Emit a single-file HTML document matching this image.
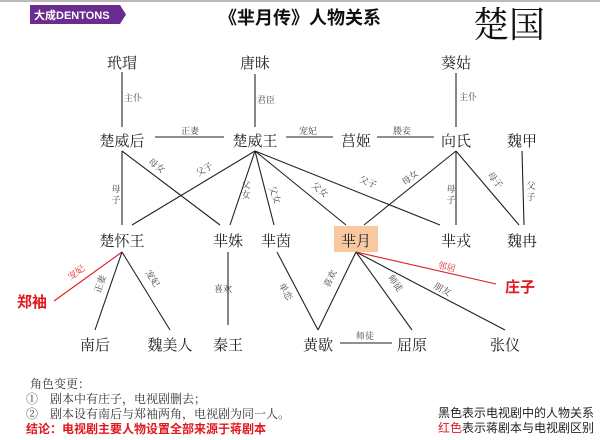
<!DOCTYPE html>
<html><head><meta charset="utf-8"><style>
html,body{margin:0;padding:0;background:#fff;width:600px;height:440px;overflow:hidden}
svg{display:block}
.n{font-family:"Liberation Serif","Noto Serif CJK SC",serif;font-size:15px;fill:#222;text-anchor:middle}
.l{font-family:"Liberation Serif","Noto Serif CJK SC",serif;font-size:9px;fill:#444;text-anchor:middle}
.f{font-family:"Liberation Serif","Noto Serif CJK SC",serif;font-size:12px;fill:#333}
line{stroke:#222;stroke-width:1.1}
.r{stroke:#e0191f}
</style></head><body>
<svg width="600" height="440" viewBox="0 0 600 440" xmlns="http://www.w3.org/2000/svg">
<rect x="0" y="0" width="600" height="2" fill="#bbb"/>
<polygon points="30,5 120,5 126,14.5 120,24 30,24" fill="#6b2c91"/>
<text x="34" y="19" font-family="Liberation Sans,Noto Sans CJK SC,sans-serif" font-size="11" font-weight="bold" fill="#fff">大成DENTONS</text>
<text x="300" y="24" text-anchor="middle" font-family="Liberation Sans,Noto Sans CJK SC,sans-serif" font-size="18" font-weight="bold" fill="#111">《芈月传》人物关系</text>
<text x="509" y="37" text-anchor="middle" font-family="Liberation Serif,Noto Serif CJK SC,serif" font-size="36" fill="#111">楚国</text>

<rect x="334" y="226" width="44" height="26" fill="#f8c9a0"/>

<!-- top verticals -->
<line x1="122" y1="72" x2="122" y2="127"/><text class="l" x="133" y="101">主仆</text>
<line x1="255" y1="74" x2="255" y2="127"/><text class="l" x="266" y="103">君臣</text>
<line x1="456" y1="73" x2="456" y2="127"/><text class="l" x="468" y="100">主仆</text>
<!-- horizontals -->
<line x1="155" y1="137" x2="224" y2="137"/><text class="l" x="190" y="134">正妻</text>
<line x1="286" y1="137" x2="333" y2="137"/><text class="l" x="308" y="134">宠妃</text>
<line x1="377" y1="137" x2="434" y2="137"/><text class="l" x="402" y="134">媵妾</text>

<!-- row2 to row3 -->
<line x1="122" y1="151" x2="122" y2="225"/><text class="l" x="116" y="192">母</text><text class="l" x="116" y="203">子</text>
<line x1="122" y1="151" x2="220" y2="225"/><text class="l" x="155" y="168" transform="rotate(37 155 168)">母女</text>
<line x1="255" y1="151" x2="132" y2="225"/><text class="l" x="206" y="172" transform="rotate(-31 206 172)">父子</text>
<line x1="255" y1="151" x2="230" y2="225"/><text class="l" x="246" y="188">父</text><text class="l" x="246" y="198">女</text>
<line x1="255" y1="151" x2="274" y2="225"/><text class="l" x="272" y="196" transform="rotate(70 272 196)">父女</text>
<line x1="255" y1="151" x2="346" y2="225"/><text class="l" x="318" y="192" transform="rotate(39 318 192)">父女</text>
<line x1="255" y1="151" x2="440" y2="225"/><text class="l" x="367" y="185" transform="rotate(22 367 185)">父子</text>
<line x1="456" y1="151" x2="364" y2="225"/><text class="l" x="412" y="180" transform="rotate(-39 412 180)">母女</text>
<line x1="456" y1="151" x2="456" y2="225"/><text class="l" x="451" y="192">母</text><text class="l" x="451" y="203">子</text>
<line x1="456" y1="151" x2="519" y2="225"/><text class="l" x="493" y="182" transform="rotate(50 493 182)">母子</text>
<line x1="522" y1="151" x2="524" y2="225"/><text class="l" x="531" y="189">父</text><text class="l" x="531" y="200">子</text>

<!-- row3 to row4 -->
<line class="r" x1="122" y1="252" x2="54" y2="301"/><text class="l" x="78" y="275" fill="#e0191f" style="fill:#e0191f" transform="rotate(-36 78 275)">宠妃</text>
<line x1="122" y1="252" x2="95" y2="330"/><text class="l" x="103" y="285" transform="rotate(-71 103 285)">正妻</text>
<line x1="122" y1="252" x2="170" y2="330"/><text class="l" x="150" y="280" transform="rotate(58 150 280)">宠妃</text>
<line x1="228" y1="252" x2="228" y2="325"/><text class="l" x="223" y="292">喜欢</text>
<line x1="277" y1="252" x2="318" y2="330"/><text class="l" x="283" y="293" transform="rotate(62 283 293)">单恋</text>
<line x1="356" y1="252" x2="318" y2="330"/><text class="l" x="333" y="280" transform="rotate(-64 333 280)">喜欢</text>
<line x1="356" y1="252" x2="412" y2="330"/><text class="l" x="393" y="285" transform="rotate(54 393 285)">师徒</text>
<line x1="356" y1="252" x2="505" y2="330"/><text class="l" x="441" y="292" transform="rotate(28 441 292)">朋友</text>
<line class="r" x1="356" y1="252" x2="496" y2="284"/><text class="l" x="446" y="270" style="fill:#e0191f" transform="rotate(13 446 270)">邻居</text>
<line x1="340" y1="343" x2="392" y2="343"/><text class="l" x="365" y="339">师徒</text>

<!-- nodes -->
<text class="n" x="122" y="68">玳瑁</text>
<text class="n" x="255" y="68">唐昧</text>
<text class="n" x="456" y="68">葵姑</text>
<text class="n" x="122" y="146">楚威后</text>
<text class="n" x="255" y="146">楚威王</text>
<text class="n" x="356" y="146">莒姬</text>
<text class="n" x="456" y="146">向氏</text>
<text class="n" x="522" y="146">魏甲</text>
<text class="n" x="122" y="246">楚怀王</text>
<text class="n" x="228" y="246">芈姝</text>
<text class="n" x="276" y="246">芈茵</text>
<text class="n" x="356" y="246">芈月</text>
<text class="n" x="456" y="246">芈戎</text>
<text class="n" x="522" y="246">魏冉</text>
<text class="n" x="95" y="350">南后</text>
<text class="n" x="170" y="350">魏美人</text>
<text class="n" x="228" y="350">秦王</text>
<text class="n" x="318" y="350">黄歇</text>
<text class="n" x="412" y="350">屈原</text>
<text class="n" x="505" y="350">张仪</text>
<text x="32" y="307" text-anchor="middle" font-family="Liberation Sans,Noto Sans CJK SC,sans-serif" font-size="15" font-weight="bold" fill="#e0191f">郑袖</text>
<text x="520" y="292" text-anchor="middle" font-family="Liberation Sans,Noto Sans CJK SC,sans-serif" font-size="15" font-weight="bold" fill="#e0191f">庄子</text>

<!-- footer -->
<text class="f" x="30" y="388">角色变更：</text>
<text class="f" x="26" y="403">①　剧本中有庄子，电视剧删去；</text>
<text class="f" x="26" y="418">②　剧本设有南后与郑袖两角，电视剧为同一人。</text>
<text x="26" y="433" font-family="Liberation Sans,Noto Sans CJK SC,sans-serif" font-size="12" font-weight="bold" fill="#e0191f">结论：电视剧主要人物设置全部来源于蒋剧本</text>
<text x="438" y="417" font-family="Liberation Sans,Noto Sans CJK SC,sans-serif" font-size="12" fill="#222">黑色表示电视剧中的人物关系</text>
<text x="438" y="432" font-family="Liberation Sans,Noto Sans CJK SC,sans-serif" font-size="12" fill="#222"><tspan fill="#e0191f">红色</tspan>表示蒋剧本与电视剧区别</text>
</svg>
</body></html>
